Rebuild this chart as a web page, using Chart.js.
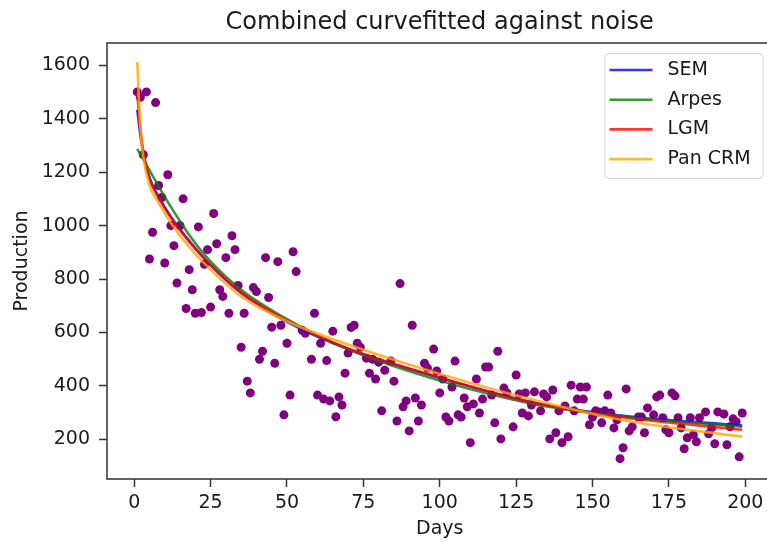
<!DOCTYPE html>
<html>
<head>
<meta charset="utf-8">
<script src="https://cdn.jsdelivr.net/npm/chart.js@4.4.1/dist/chart.umd.min.js"></script>
<style>
  html, body { margin: 0; padding: 0; background: #fff; overflow: hidden; }
  #wrap { width: 777px; height: 542px; }
</style>
</head>
<body>
<div id="wrap"><canvas id="chart" width="777" height="542"></canvas></div>
<script>
// noisy production points
const days = [1,2,3,4,5,6,7,8,9,10,
  11,12,13,14,15,16,17,18,19,20,
  21,22,23,24,25,26,27,28,29,30,
  31,32,33,34,35,36,37,38,39,40,
  41,42,43,44,45,46,47,48,49,50,
  51,52,53,55,56,58,59,60,61,62,
  63,64,65,66,67,68,69,70,71,72,
  73,74,76,77,78,79,80,81,82,84,
  85,86,87,88,89,90,91,92,93,94,
  95,96,98,99,100,101,102,103,104,105,
  106,107,108,109,110,111,112,113,114,115,
  116,117,118,119,120,121,122,124,125,126,
  127,128,129,130,131,133,134,135,136,137,
  138,139,140,141,142,143,144,145,146,147,
  148,149,150,151,152,153,154,155,156,157,
  158,159,160,161,162,163,165,166,167,168,
  170,171,172,173,174,175,176,177,178,179,
  180,181,182,183,184,185,187,188,189,190,
  191,193,194,195,196,197,198,199];
const production = [1500,1480,1265,1500,875,975,1460,1150,1105,860,
  1190,1000,925,785,1000,1100,690,835,760,672,
  995,675,855,910,695,1045,932,760,735,880,
  672,962,910,776,545,672,418,374,768,753,
  500,530,880,731,620,485,865,627,292,560,
  366,902,828,608,597,500,672,366,560,351,
  495,344,605,285,359,329,448,523,619,627,
  560,545,504,448,500,426,489,307,459,493,
  418,269,783,322,344,232,627,355,269,329,
  485,467,538,456,374,426,284,269,396,493,
  292,284,355,322,188,333,426,299,351,471,
  471,366,262,530,202,392,374,247,441,370,
  299,374,288,329,378,307,370,359,202,385,
  225,307,188,325,210,403,307,351,396,351,
  396,255,284,307,303,262,307,366,299,243,
  273,128,169,389,232,247,284,284,225,318,
  292,359,366,281,236,225,374,363,281,243,
  165,206,281,217,191,281,303,221,243,184,
  303,295,180,247,277,266,135,299];

const curveDays = [1,2,3,5,8,12,18,25,35,50,70,100,130,160,199];
const semFit    = [1433,1340,1270,1180,1108,1033,943,852,748,640,538,430,340,288,252];
const arpesFit  = [1287,1267,1247,1207,1147,1070,965,866,760,650,537,420,334,286,248];
const lgmFit    = [1496,1365,1275,1175,1105,1030,940,853,750,645,540,432,338,283,236];
const panCrmFit = [1612,1370,1255,1150,1085,1010,920,835,735,642,555,445,350,272,210];

const xTicks = [0,25,50,75,100,125,150,175,200];
const yTicks = [200,400,600,800,1000,1200,1400,1600];

const FONT = "'DejaVu Sans', sans-serif";
const INK = "#1a1a1a";

const toPoints = (xs, ys) => xs.map((x, i) => ({ x: x, y: ys[i] }));

// lower order is painted later, so the last fit ends up on top
const fitLine = (label, values, color, order) => ({
  type: "line",
  label: label,
  data: toPoints(curveDays, values),
  borderColor: color,
  borderWidth: 2.6,
  pointRadius: 0,
  fill: false,
  cubicInterpolationMode: "monotone",
  order: order,
});

// matplotlib style box around the axes
const axesFrame = {
  id: "axesFrame",
  afterDatasetsDraw(chart) {
    const { ctx, chartArea: a } = chart;
    ctx.save();
    ctx.strokeStyle = "#333";
    ctx.lineWidth = 1.5;
    ctx.strokeRect(a.left, a.top, a.right - a.left, a.bottom - a.top);
    ctx.restore();
  },
};

// legend in the upper right corner of the axes
const insideLegend = {
  id: "insideLegend",
  afterDraw(chart) {
    const { ctx, chartArea: a } = chart;
    const w = 158, h = 125;
    const x = a.right - 10 - w;
    const y = a.top + 10;
    ctx.save();
    ctx.fillStyle = "rgba(255,255,255,0.8)";
    ctx.strokeStyle = "#d4d4d4";
    ctx.lineWidth = 1;
    ctx.beginPath();
    ctx.roundRect(x + 0.5, y + 0.5, w, h, 4);
    ctx.fill();
    ctx.stroke();
    const lines = chart.data.datasets.filter((d) => d.type === "line");
    ctx.font = "19px " + FONT;
    ctx.textBaseline = "middle";
    lines.forEach((ds, i) => {
      const cy = y + 17 + i * 29.7;
      ctx.strokeStyle = ds.borderColor;
      ctx.lineWidth = ds.borderWidth;
      ctx.beginPath();
      ctx.moveTo(x + 5, cy);
      ctx.lineTo(x + 48, cy);
      ctx.stroke();
      ctx.fillStyle = INK;
      ctx.fillText(ds.label, x + 63, cy);
    });
    ctx.restore();
  },
};

new Chart(document.getElementById("chart"), {
  data: {
    datasets: [
      {
        type: "scatter",
        label: "Noise",
        data: toPoints(days, production),
        backgroundColor: "#800080",
        borderWidth: 0,
        pointRadius: 4.5,
        order: 5,
      },
      fitLine("SEM", semFit, "rgba(0,0,255,0.8)", 4),
      fitLine("Arpes", arpesFit, "rgba(0,128,0,0.8)", 3),
      fitLine("LGM", lgmFit, "rgba(255,0,0,0.8)", 2),
      fitLine("Pan CRM", panCrmFit, "rgba(255,165,0,0.8)", 1),
    ],
  },
  options: {
    responsive: false,
    animation: false,
    events: [],
    layout: { padding: 0 },
    plugins: {
      legend: { display: false },
      tooltip: { enabled: false },
      title: {
        display: true,
        text: "Combined curvefitted against noise",
        fullSize: false,
        color: INK,
        font: { family: FONT, size: 24, weight: "normal", lineHeight: 1.2 },
        padding: { top: 8, bottom: 6.2 },
      },
    },
    scales: {
      x: {
        type: "linear",
        min: -8.9,
        max: 208.9,
        afterBuildTicks: (scale) => {
          scale.ticks = xTicks.map((v) => ({ value: v }));
        },
        afterFit: (scale) => {
          scale.height = 63;
        },
        border: { display: false },
        grid: {
          drawOnChartArea: false,
          drawTicks: true,
          tickLength: 8,
          tickWidth: 1.5,
          tickColor: "#333",
        },
        ticks: {
          color: INK,
          padding: 5,
          maxRotation: 0,
          font: { family: FONT, size: 19 },
        },
        title: {
          display: true,
          text: "Days",
          color: INK,
          font: { family: FONT, size: 19 },
          padding: { top: 0, bottom: 2 },
        },
      },
      y: {
        type: "linear",
        min: 52,
        max: 1683,
        afterBuildTicks: (scale) => {
          scale.ticks = yTicks.map((v) => ({ value: v }));
        },
        afterFit: (scale) => {
          scale.width = 107;
        },
        border: { display: false },
        grid: {
          drawOnChartArea: false,
          drawTicks: true,
          tickLength: 8,
          tickWidth: 1.5,
          tickColor: "#333",
        },
        ticks: {
          color: INK,
          padding: 9,
          font: { family: FONT, size: 19 },
          callback: (value) => String(value),
        },
        title: {
          display: true,
          text: "Production",
          color: INK,
          font: { family: FONT, size: 19 },
          padding: { top: 11, bottom: 0 },
        },
      },
    },
  },
  plugins: [axesFrame, insideLegend],
});
</script>
</body>
</html>
